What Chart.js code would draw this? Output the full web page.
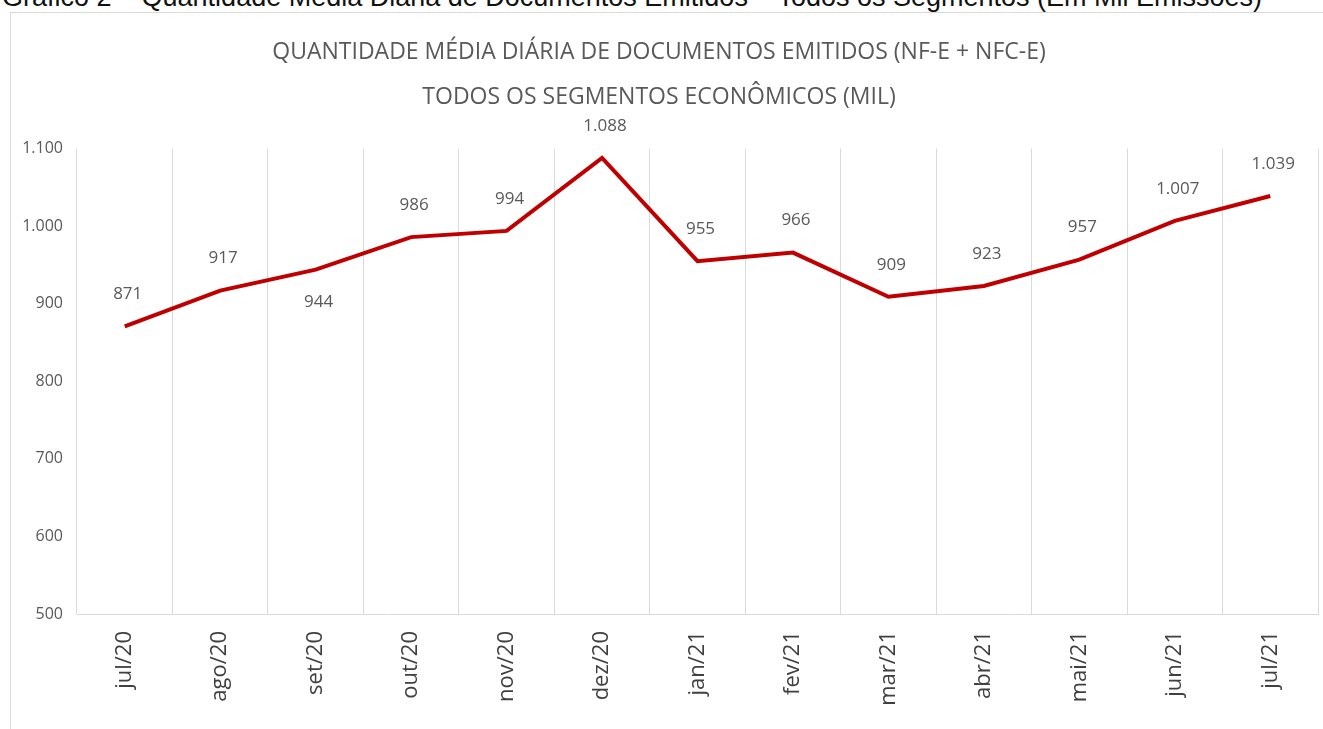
<!DOCTYPE html>
<html>
<head>
<meta charset="utf-8">
<script src="https://cdn.jsdelivr.net/npm/chart.js@4"></script>
<style>
  body { margin: 0; background: #fff; overflow: hidden; }
  #wrap { position: relative; width: 1323px; height: 729px; overflow: hidden; }
  #frame { position: absolute; left: 10px; top: 12px; width: 1320px; height: 730px; border: 1px solid #d9d9d9; box-sizing: border-box; }
  #caption { position: absolute; left: 2px; top: -18px; font: 27px "Liberation Sans", Arial, sans-serif; color: #111; white-space: nowrap; }
  #chart { position: absolute; left: 0; top: 0; }
</style>
</head>
<body>
<div id="wrap">
  <div id="frame"></div>
  <div id="caption">Gráfico 2 – Quantidade Média Diária de Documentos Emitidos – Todos os Segmentos (Em Mil Emissões)</div>
  <canvas id="chart" width="1323" height="729"></canvas>
</div>
<script>
var meses = ['jul/20', 'ago/20', 'set/20', 'out/20', 'nov/20', 'dez/20', 'jan/21', 'fev/21', 'mar/21', 'abr/21', 'mai/21', 'jun/21', 'jul/21'];
var mediaDiaria = [871, 917, 944, 986, 994, 1088, 955, 966, 909, 923, 957, 1007, 1039];
// rótulo abaixo do ponto só em set/20
var rotuloAbaixo = [false, false, true, false, false, false, false, false, false, false, false, false, false];
var titulo = ['QUANTIDADE MÉDIA DIÁRIA DE DOCUMENTOS EMITIDOS (NF-E + NFC-E)', 'TODOS OS SEGMENTOS ECONÔMICOS (MIL)'];

function formataMil(v) {
    return v.toString().replace(/\B(?=(\d{3})+(?!\d))/g, '.');
}

var rotulos = {
    id: 'rotulos',
    afterDatasetsDraw: function (chart) {
        var ctx = chart.ctx;
        var meta = chart.getDatasetMeta(0);
        ctx.save();
        ctx.font = '17px "Open Sans", sans-serif';
        ctx.fillStyle = '#595959';
        ctx.textAlign = 'center';
        ctx.textBaseline = 'middle';
        meta.data.forEach(function (p, i) {
            var dy = rotuloAbaixo[i] ? 32 : -32;
            ctx.fillText(formataMil(mediaDiaria[i]), p.x + 3, p.y + dy);
        });
        ctx.restore();
    }
};

var ctx = document.getElementById('chart').getContext('2d');
var grafico = new Chart(ctx, {
    type: 'line',
    data: {
        labels: meses,
        datasets: [{
            data: mediaDiaria,
            borderColor: '#c00000',
            borderWidth: 4,
            pointRadius: 0,
            tension: 0,
            fill: false
        }]
    },
    plugins: [rotulos],
    options: {
        responsive: false,
        animation: false,
        layout: { padding: { left: 0, right: 5, top: 0, bottom: 0 } },
        plugins: {
            legend: { display: false },
            tooltip: { enabled: false },
            title: {
                display: true,
                text: titulo,
                color: '#595959',
                font: { family: '"Open Sans", sans-serif', size: 23, weight: 'normal', lineHeight: 1.95 },
                padding: { top: 30, bottom: 29 }
            }
        },
        scales: {
            x: {
                offset: true,
                grid: { offset: true, color: '#d9d9d9', drawTicks: false },
                border: { color: '#d9d9d9' },
                ticks: {
                    minRotation: 90,
                    maxRotation: 90,
                    padding: 17,
                    color: '#404040',
                    font: { family: '"Open Sans", sans-serif', size: 22 }
                },
                afterFit: function (s) { s.height = 115; }
            },
            y: {
                min: 500,
                max: 1100,
                grid: { display: false, drawTicks: false },
                border: { display: false },
                ticks: {
                    stepSize: 100,
                    padding: 14,
                    color: '#595959',
                    font: { family: '"Open Sans", sans-serif', size: 16 },
                    callback: function (v) { return formataMil(v); }
                },
                afterFit: function (s) { s.width = 77; }
            }
        }
    }
});
</script>
</body>
</html>
